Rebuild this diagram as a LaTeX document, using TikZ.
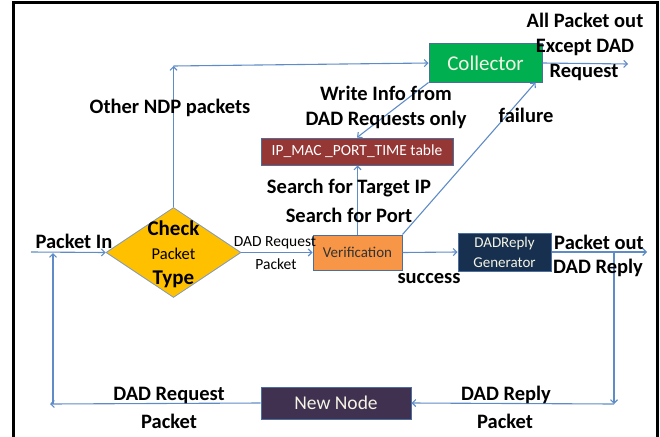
\documentclass[tikz,border=0pt]{standalone}
\usepackage{fontspec}
\setmainfont{Carlito}
\usetikzlibrary{arrows.meta,shapes.geometric}

\definecolor{link}{HTML}{5F8CC7}
\definecolor{edge}{HTML}{4A6E9E}
\definecolor{collfill}{HTML}{00B050}
\definecolor{tblfill}{HTML}{953735}
\definecolor{chkfill}{HTML}{FFC000}
\definecolor{verfill}{HTML}{F79646}
\definecolor{genfill}{HTML}{17304F}
\definecolor{newfill}{HTML}{403151}
\definecolor{pale}{HTML}{F4F4E4}

\begin{document}
\begin{tikzpicture}[x=1pt,y=-1pt,
  flow/.style={draw=link, line width=1.1pt, -{Straight Barb[length=3.5pt,width=7pt]}},
  boxnode/.style={draw=edge, line width=1pt, inner sep=0pt, align=center},
  lbl/.style={font=\fontsize{20.5}{26}\selectfont\bfseries, inner sep=0pt, align=center},
  small/.style={font=\fontsize{15.5}{20}\selectfont, inner sep=0pt, align=center}]

\useasboundingbox (0,0) rectangle (660,436);

% outer frame (its lower edge lies below the page)
\draw[line width=3pt] (13,445) -- (13,3) -- (657,3) -- (657,445);

% boxes
\node[boxnode, fill=collfill, text=pale, minimum width=113pt, minimum height=38pt,
      font=\fontsize{21}{24}\selectfont] (collector) at (485.5,63) {Collector};
\node[boxnode, fill=tblfill, text=white, minimum width=192pt, minimum height=27pt,
      font=\fontsize{15.5}{18}\selectfont] (table) at (357,151.5) {IP\_MAC \_PORT\_TIME table};
\node[draw=edge!70, line width=0.8pt, fill=chkfill, shape=diamond, inner sep=0pt,
      minimum width=135pt, minimum height=90pt] (check) at (173.5,252.5) {};
\node[inner sep=0pt, align=center, font=\fontsize{21}{24.5}\selectfont] (checktext) at (173.5,254)
  {\bfseries Check\\{\fontsize{16.5}{24.5}\selectfont Packet}\\\bfseries Type};
\node[boxnode, fill=verfill, text=black!80, minimum width=89pt, minimum height=35pt,
      font=\fontsize{15}{18}\selectfont] (verif) at (357.5,252.5) {Verification};
\node[boxnode, fill=genfill, text=pale, minimum width=93pt, minimum height=38pt,
      font=\fontsize{15}{20}\selectfont] (gen) at (504.5,252) {DADReply\\Generator};
\node[boxnode, fill=newfill, text=pale, minimum width=150pt, minimum height=32pt,
      font=\fontsize{19.5}{22}\selectfont] (newnode) at (336,403) {New Node};

% free ends and corners
\coordinate (inL) at (31,252);
\coordinate (topcorner) at (173.5,66);
\coordinate (allout) at (628,64);
\coordinate (replyout) at (647,252);
\coordinate (rdrop) at (614,252);
\coordinate (rcorner) at (614,404);
\coordinate (lcorner) at (50,404);
\coordinate (lfoot) at (53,404);
\coordinate (lup) at (53,253);

% connectors
\draw[flow] (inL) -- (check.west);
\draw[flow] (check.north) -- (topcorner);
\draw[flow] (topcorner) -- (collector.west);
\draw[flow] (collector.east) -- (allout);
\draw[flow] (collector.south west) -- (table.north);
\draw[flow] (verif.north east) -- ([xshift=-7pt]collector.south east);
\draw[flow] (verif.north) -- (verif.north |- table.south);
\draw[flow] (check.east) -- (verif.west);
\draw[flow] (verif.east) -- (gen.west);
\draw[flow] (gen.east) -- (replyout);
\draw[flow] (rdrop) -- (rcorner);
\draw[flow] (rcorner) -- (newnode.east);
\draw[flow] (newnode.west) -- (lcorner);
\draw[flow] (lfoot) -- (lup);

% labels
\node[lbl] (lin) at (74,241) {Packet In};
\node[lbl] (lother) at (170,108) {Other NDP packets};
\node[lbl] (lall1) at (585,20) {All Packet out};
\node[lbl] (lall2) at (585,47) {Except DAD};
\node[lbl] (lall3) at (584,72) {Request};
\node[lbl] (lwrite1) at (386,93) {Write Info from};
\node[lbl] (lwrite2) at (386,120) {DAD Requests only};
\node[lbl] (lfail) at (526,115) {failure};
\node[lbl] (lsearch1) at (349,188) {Search for Target IP};
\node[lbl] (lsearch2) at (349,215) {Search for Port};
\node[small] (lreq1) at (275,243) {DAD Request};
\node[small] (lreq2) at (276,264) {Packet};
\node[lbl] (lsucc) at (429,279) {success};
\node[lbl] (lout1) at (599,242) {Packet out};
\node[lbl] (lout2) at (598,268) {DAD Reply};
\node[lbl] (lrep1) at (506,395) {DAD Reply};
\node[lbl] (lrep2) at (505,421) {Packet};
\node[lbl] (lbreq1) at (169,395) {DAD Request};
\node[lbl] (lbreq2) at (169,421) {Packet};
\end{tikzpicture}
\end{document}
